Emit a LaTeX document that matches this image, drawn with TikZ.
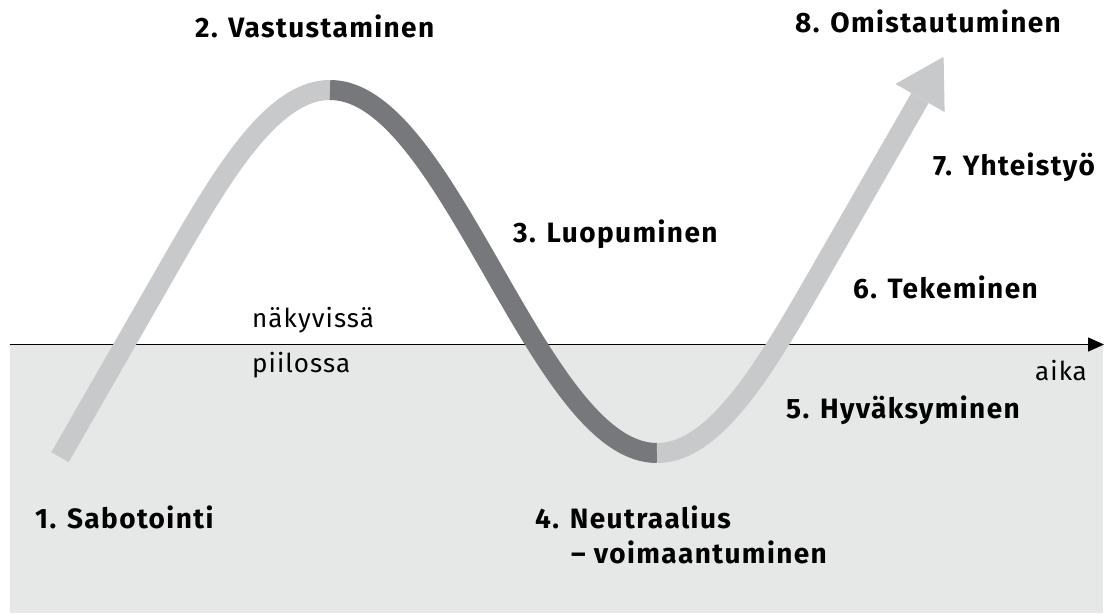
\documentclass[tikz,border=0pt]{standalone}
\usepackage{fontspec}
\setmainfont{Fira Sans}
\newfontfamily\lblfont{Fira Sans}[LetterSpace=5]
\newfontfamily\smfont{Fira Sans}[LetterSpace=4]
\usetikzlibrary{arrows.meta}
\definecolor{bggray}{HTML}{E6E7E7}
\definecolor{bandlight}{HTML}{C8C9CB}
\definecolor{banddark}{HTML}{77787B}
\begin{document}
\begin{tikzpicture}[x=1pt,y=-1pt,
  lbl/.style={anchor=base west,inner sep=0pt,font=\lblfont\bfseries\fontsize{28}{33}\selectfont},
  sm/.style={anchor=base west,inner sep=0pt,font=\smfont\fontsize{26}{30}\selectfont},
  band/.style={line width=20pt,line join=round},
  axisline/.style={line width=1.5pt,-{Triangle[length=16pt,width=14pt]}}]
\useasboundingbox (0,0) rectangle (1110,614);
\fill[white] (0,0) rectangle (1110,614);
\fill[bggray] (9.5,344.5) rectangle (1103,613);
\coordinate (axs) at (9.5,344.5);
\coordinate (axe) at (1104,344.5);
\draw[axisline] (axs) -- (axe);
% curve
\draw[band,bandlight] (60,457.2) -- (166.5,271.5) -- plot[domain=166.5:330,samples=60] (\x,{271.5-181.5*sin(0.550459*(\x-166.5))});
\draw[band,banddark] plot[domain=330:657,samples=100] (\x,{271.5-181.5*sin(0.550459*(\x-166.5))});
\draw[band,bandlight] plot[domain=657:820.5,samples=60] (\x,{271.5-181.5*sin(0.550459*(\x-166.5))}) -- (920,98);
\fill[bandlight] (895.5,83.9) -- (943.6,56.8) -- (944.6,112.1) -- cycle;
% labels
\node[lbl] (l2) at (195,37) {2. Vastustaminen};
\node[lbl] (l8) at (795,32) {8. Omistautuminen};
\node[lbl] (l7) at (933,175) {7. Yhteistyö};
\node[lbl] (l3) at (513,242) {3. Luopuminen};
\node[lbl] (l6) at (853,298) {6. Tekeminen};
\node[lbl] (l5) at (786,418) {5. Hyväksyminen};
\node[lbl] (l1) at (35,528) {1. Sabotointi};
\node[lbl] (l4) at (535,528) {4. Neutraalius};
\node[lbl] (l4b) at (571,563) {– voimaantuminen};
\node[sm] (vis) at (252,327) {näkyvissä};
\node[sm] (hid) at (252,372) {piilossa};
\node[sm] (aika) at (1035,380) {aika};
\end{tikzpicture}
\end{document}
